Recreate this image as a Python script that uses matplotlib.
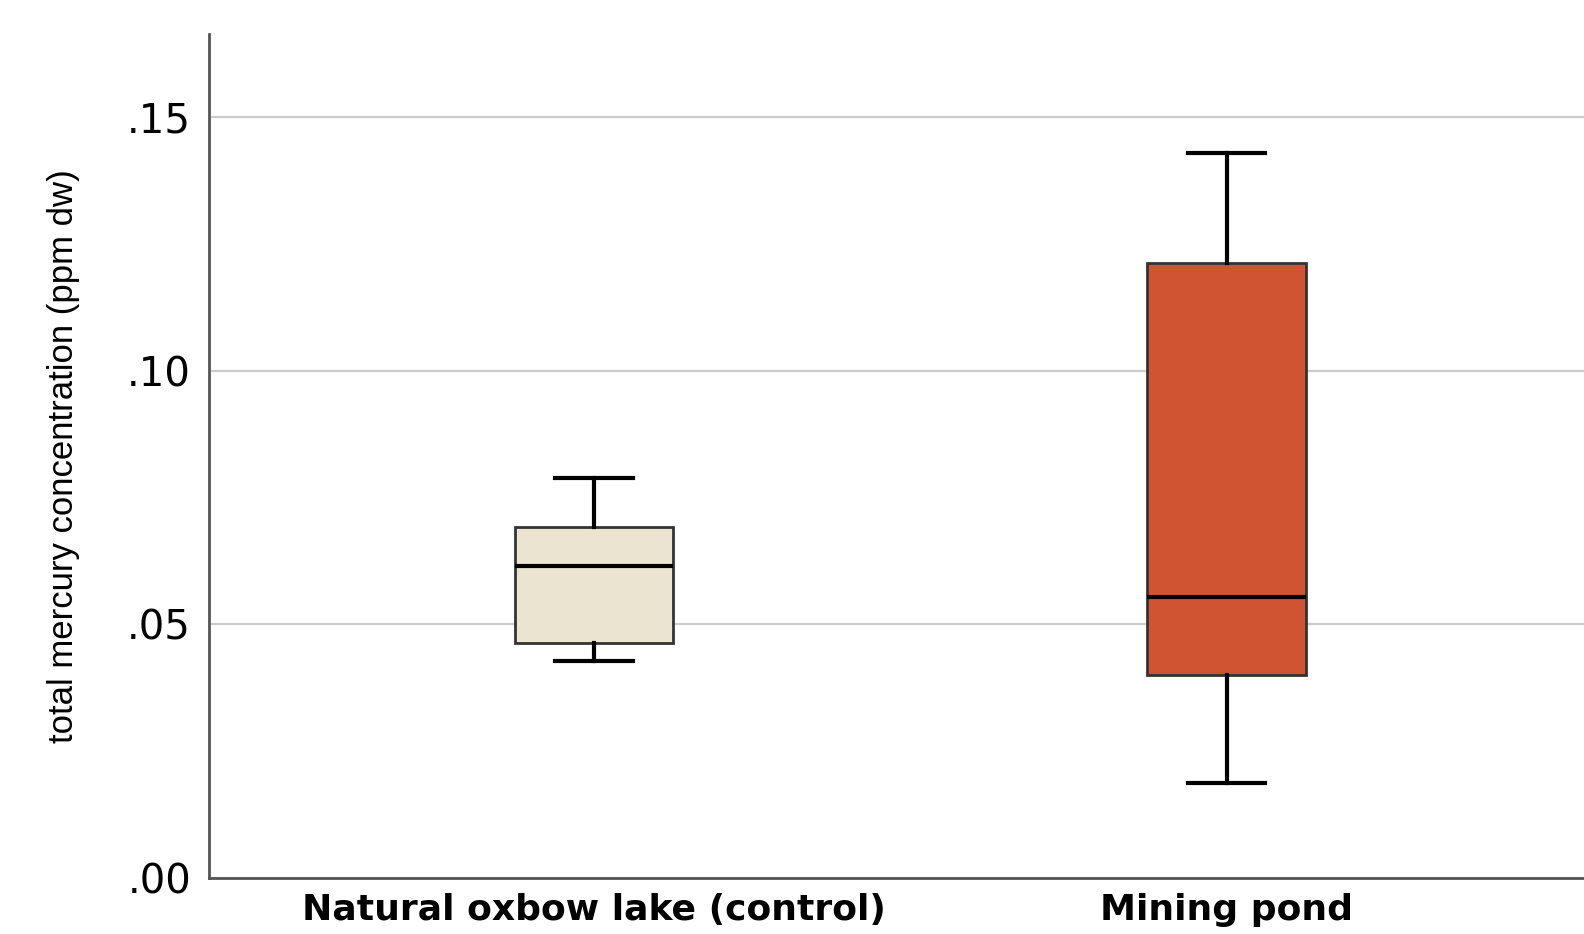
import matplotlib.pyplot as plt
from matplotlib import font_manager

# ----------------- DATA -----------------
groups = ["Natural oxbow lake (control)", "Mining pond"]
whis_low = [0.0428, 0.0187]
q1 = [0.0464, 0.0400]
median = [0.0616, 0.0554]
q3 = [0.0693, 0.1213]
whis_high = [0.0789, 0.1430]
fills = ["#EAE4D0", "#D05432"]

y_ticks = [0.00, 0.05, 0.10, 0.15]
y_ticklabels = [".00", ".05", ".10", ".15"]

# narrow font for the axis title if one is installed
names = {f.name for f in font_manager.fontManager.ttflist}
if "Liberation Sans Narrow" in names:
    narrow, title_size = "Liberation Sans Narrow", 30
elif "DejaVu Sans Condensed" in names:
    narrow, title_size = "DejaVu Sans Condensed", 27
else:
    narrow, title_size = "Liberation Sans", 25

# ----------------- PLOT -----------------
fig = plt.figure(figsize=(15.84, 9.34), dpi=100)
ax = fig.add_axes([0.132, 0.060, 0.868, 0.904])

stats = []
for i, g in enumerate(groups):
    stats.append({"label": g, "whislo": whis_low[i], "q1": q1[i], "med": median[i],
                  "q3": q3[i], "whishi": whis_high[i], "fliers": []})

bp = ax.bxp(stats, positions=[0, 1], widths=0.251, patch_artist=True,
            showfliers=False, capwidths=0.123,
            boxprops=dict(edgecolor="#333333", linewidth=2),
            medianprops=dict(color="black", linewidth=3),
            whiskerprops=dict(color="black", linewidth=3),
            capprops=dict(color="black", linewidth=3))
for patch, c in zip(bp["boxes"], fills):
    patch.set_facecolor(c)
    patch.set_zorder(3)
for key in ["medians", "whiskers", "caps"]:
    for ln in bp[key]:
        ln.set_zorder(4)

ax.set_xlim(-0.6087, 1.5652)
ax.set_ylim(0, 0.1665)
ax.set_yticks(y_ticks)
ax.set_yticklabels(y_ticklabels, fontsize=29, family="DejaVu Sans")
ax.set_xticks([0, 1])
ax.set_xticklabels(groups, fontsize=26, fontweight="bold", family="DejaVu Sans")
ax.tick_params(axis="both", length=0)
ax.tick_params(axis="y", pad=13)
ax.tick_params(axis="x", pad=11)

ax.yaxis.grid(True, color="#cccccc", linewidth=1.6)
ax.set_axisbelow(True)

for s in ["top", "right"]:
    ax.spines[s].set_visible(False)
for s in ["left", "bottom"]:
    ax.spines[s].set_color("#555555")
    ax.spines[s].set_linewidth(2)

ax.set_ylabel("total mercury concentration (ppm dw)", fontsize=title_size, family=narrow, labelpad=34)

fig.savefig("out.png", dpi=100)
